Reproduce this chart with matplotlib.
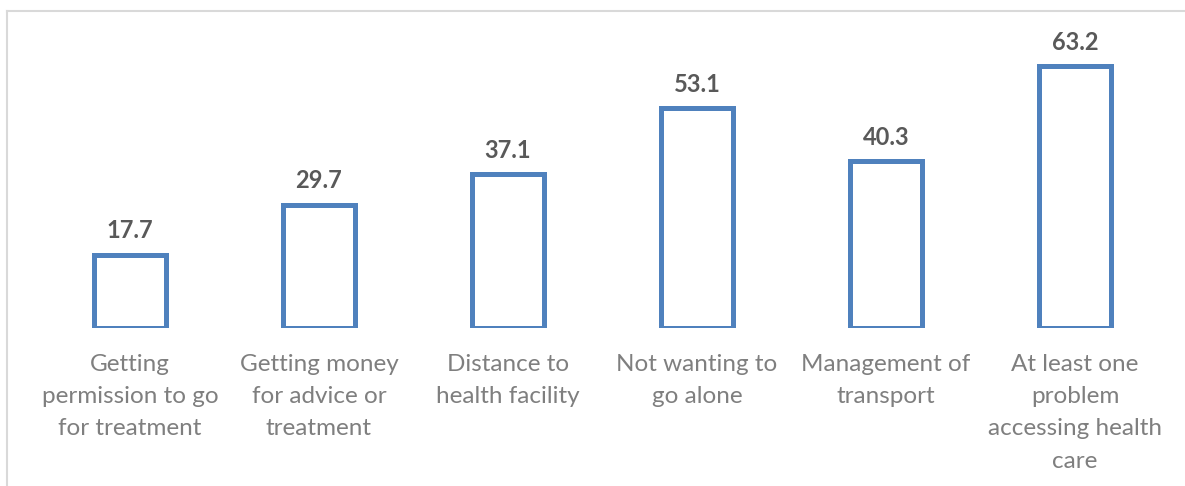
import matplotlib.pyplot as plt
from matplotlib.lines import Line2D

categories = ['Getting\npermission to go\nfor treatment',
              'Getting money\nfor advice or\ntreatment',
              'Distance to\nhealth facility',
              'Not wanting to\ngo alone',
              'Management of\ntransport',
              'At least one\nproblem\naccessing health\ncare']
values = [17.7, 29.7, 37.1, 53.1, 40.3, 63.2]

W, H = 1185, 486
fig = plt.figure(figsize=(W / 100, H / 100), dpi=100)
# plot area placed in pixel terms
left, right, bottom, top = 35.5, 1169.5, 328, 38
ax = fig.add_axes([left / W, 1 - bottom / H, (right - left) / W, (bottom - top) / H])

x = range(len(values))
ax.bar(x, values, width=0.38, facecolor='white', edgecolor='#4f81bd', linewidth=3.6)
ax.set_xlim(-0.5, len(values) - 0.5)
ax.set_ylim(0, 70)

for xi, v in zip(x, values):
    ax.annotate('{:.1f}'.format(v), (xi, v), xytext=(0, 9), textcoords='offset points',
                ha='center', va='bottom', fontsize=17, fontweight='bold',
                color='#595959', family='Lato')

ax.set_xticks(list(x))
ax.set_xticklabels(categories, fontsize=17.5, color='#7f7f7f', family='Lato',
                   linespacing=1.65, va='top')
ax.tick_params(axis='x', length=0, pad=19)
ax.set_yticks([])
for s in ax.spines.values():
    s.set_visible(False)

# chart-area border (only top and left edges visible in the crop)
fig.add_artist(Line2D([7 / W, 7 / W], [0, 1 - 11 / H], color='#d9d9d9', linewidth=1.5))
fig.add_artist(Line2D([7 / W, 1], [1 - 11 / H, 1 - 11 / H], color='#d9d9d9', linewidth=1.5))

plt.savefig('out.png', dpi=100)
